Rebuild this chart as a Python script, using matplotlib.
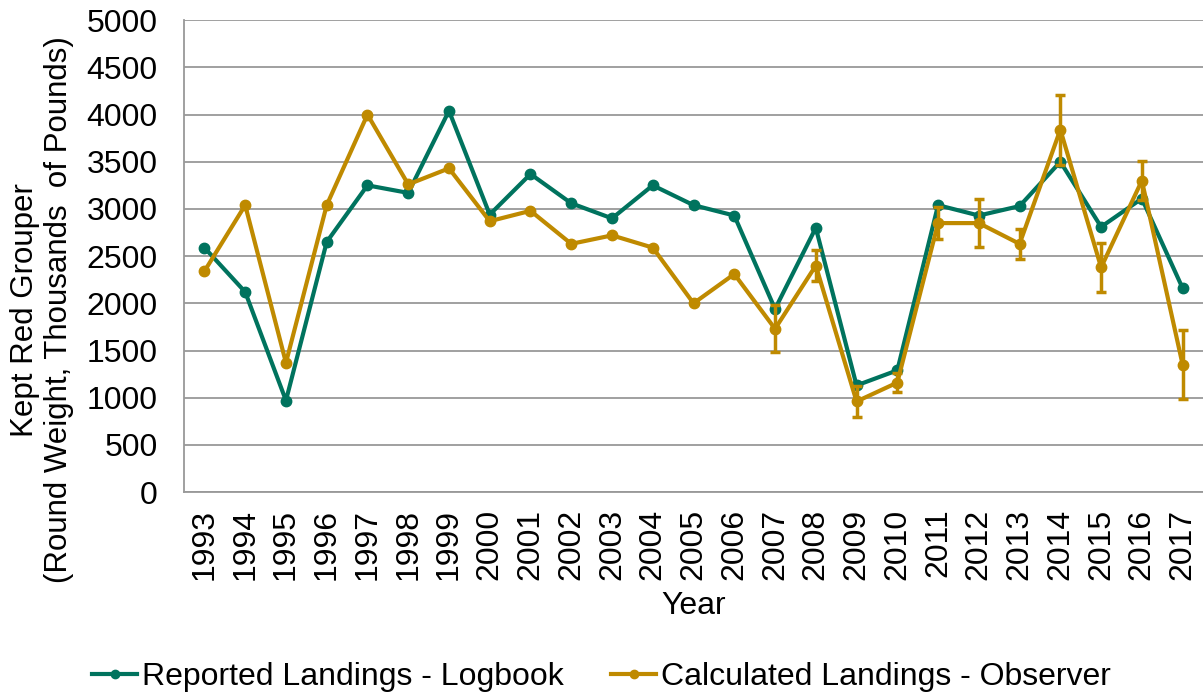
import numpy as np
import matplotlib
matplotlib.use("Agg")
import matplotlib.pyplot as plt
from matplotlib.lines import Line2D

plt.rcParams['font.family'] = ['Liberation Sans', 'DejaVu Sans']

years = list(range(1993, 2018))
logbook = [2590, 2120, 970, 2650, 3250, 3170, 4040, 2940, 3370, 3060, 2900, 3250,
           3040, 2930, 1940, 2800, 1130, 1290, 3040, 2930, 3030, 3500, 2810, 3110, 2160]
observer = [2340, 3040, 1370, 3040, 4000, 3260, 3430, 2870, 2980, 2630, 2720, 2590,
            2000, 2310, 1730, 2400, 960, 1160, 2850, 2850, 2630, 3840, 2380, 3300, 1350]
# error bars only from 2007 on
observer_err = [np.nan] * 14 + [250, 165, 160, 100, 170, 255, 160, 370, 260, 210, 365]

teal = '#00735E'
gold = '#BF8A00'
fs = 23

fig = plt.figure(figsize=(12.03, 6.96), dpi=100)
ax = fig.add_axes([0.153, 0.293, 0.847, 0.678])

x = np.arange(len(years))
ax.plot(x, logbook, color=teal, lw=3, marker='o', ms=7.5, zorder=3)
ax.errorbar(x, observer, yerr=observer_err, color=gold, lw=3, marker='o', ms=7.5,
            elinewidth=2.5, capsize=3.5, capthick=2.5, zorder=4)

ax.set_xlim(-0.5, len(years) - 0.5)
ax.set_ylim(0, 5000)
ax.set_yticks(range(0, 5001, 500))
ax.set_xticks(x)
ax.set_xticklabels([str(y) for y in years], rotation=90)
ax.tick_params(axis='both', length=0, labelsize=fs)
ax.tick_params(axis='x', pad=12)
ax.tick_params(axis='y', pad=19)
ax.grid(axis='y', color='#999999', lw=1.3)
ax.set_axisbelow(True)
for s in ['top', 'right']:
    ax.spines[s].set_visible(False)
for s in ['left', 'bottom']:
    ax.spines[s].set_color('#999999')
    ax.spines[s].set_linewidth(1.3)

ax.set_xlabel('Year', fontsize=fs, labelpad=8)
fig.text(42 / 1203, 1 - 310 / 696, 'Kept Red Grouper\n(Round Weight, Thousands  of Pounds)',
         fontsize=22.5, rotation=90, ha='center', va='center', multialignment='center')

handles = [Line2D([], [], color=teal, lw=3, marker='o', ms=6),
           Line2D([], [], color=gold, lw=3, marker='o', ms=6)]
labels = ['Reported Landings - Logbook', 'Calculated Landings - Observer']
fig.legend(handles, labels, loc='center', ncol=2, frameon=False, fontsize=fs,
           bbox_to_anchor=(0.5, 1 - 677 / 696), handlelength=1.4, handletextpad=0.15,
           columnspacing=1.5, borderpad=0)

fig.savefig('out.png', dpi=100)
